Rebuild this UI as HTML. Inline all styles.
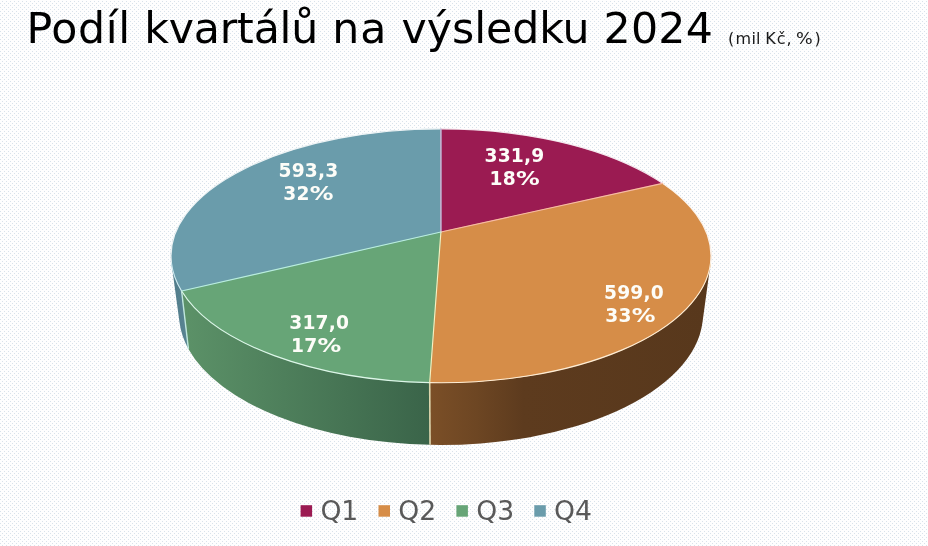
<!DOCTYPE html>
<html lang="cs"><head><meta charset="utf-8"><title>Podíl kvartálů na výsledku 2024</title>
<style>
html,body{margin:0;padding:0}
body{width:928px;height:546px;overflow:hidden;position:relative;background-color:#fefefe;font-family:"DejaVu Sans","Liberation Sans",sans-serif}
#title{z-index:2;position:absolute;left:0;top:3px;margin:0;font-weight:normal;font-size:42.67px;line-height:50px;white-space:nowrap;color:#000;width:928px;height:50px}
#title span{position:absolute;top:0}
#title small{position:absolute;font-size:16px;line-height:20px;top:25.5px;color:#1a1a1a}
svg{position:absolute;left:0;top:0}
.lbl{font-family:"DejaVu Sans","Liberation Sans",sans-serif;font-weight:bold;font-size:18.67px;fill:#fdfdf8}
.mid{text-anchor:middle;letter-spacing:0.15px}
.num{letter-spacing:0.28px}
.leg{font-family:"DejaVu Sans","Liberation Sans",sans-serif;font-size:26.67px;fill:#595959}
</style></head><body>
<h1 id="title"><span style="left:26.5px;letter-spacing:0.6px">Podíl</span> <span style="left:144.2px;letter-spacing:-0.18px">kvartálů</span> <span style="left:332.3px;letter-spacing:0.9px">na</span> <span style="left:401.6px;letter-spacing:-0.05px">výsledku</span> <span style="left:603.6px;letter-spacing:0.25px">2024</span> <small style="left:727.9px;letter-spacing:0px">(</small> <small style="left:735.6px;letter-spacing:0.2px">mil</small> <small style="left:765.3px;letter-spacing:0.9px">Kč,</small> <small style="left:796.2px;letter-spacing:0px;transform:scaleX(1.1);transform-origin:0 0">%</small> <small style="left:814.5px;letter-spacing:0px">)</small></h1>
<svg width="928" height="546" viewBox="0 0 928 546">
<defs>
<pattern id="dots" x="0" y="0" width="4" height="4" patternUnits="userSpaceOnUse"><rect x="2" y="1" width="1" height="1" fill="#d9e2ea"/><rect x="0" y="3" width="1" height="1" fill="#d9e2ea"/></pattern>
<linearGradient id="gs" gradientUnits="userSpaceOnUse" x1="181" y1="0" x2="430" y2="0"><stop offset="0" stop-color="#5c9268"/><stop offset="1" stop-color="#3a6449"/></linearGradient>
<linearGradient id="os" gradientUnits="userSpaceOnUse" x1="430" y1="0" x2="705" y2="0"><stop offset="0" stop-color="#7b4f27"/><stop offset="0.17" stop-color="#6d4623"/><stop offset="0.34" stop-color="#5d3b1e"/><stop offset="1" stop-color="#58381c"/></linearGradient>
<linearGradient id="bs" gradientUnits="userSpaceOnUse" x1="171" y1="0" x2="190" y2="0"><stop offset="0" stop-color="#4f7a88"/><stop offset="1" stop-color="#5b8795"/></linearGradient>
</defs>
<rect x="0" y="0" width="928" height="546" fill="url(#dots)" shape-rendering="crispEdges"/>
<g id="sides" stroke-linejoin="round">
<path d="M710.56 263.05 A270 126.85 0 0 1 429.70 382.59 L430.03 444.79 A262 130.7 0 0 0 702.53 322.05 Z" fill="url(#os)"/>
<path d="M429.70 382.59 A270 126.85 0 0 1 181.60 291.04 L188.43 348.95 A262 130.7 0 0 0 430.03 444.79 Z" fill="url(#gs)"/>
<path d="M181.60 291.04 A270 126.85 0 0 1 171.44 263.05 L179.47 322.05 A262 130.7 0 0 0 188.43 348.95 Z" fill="url(#bs)"/>
<path d="M429.70 382.59 L430.03 444.79" stroke="#ddd6ae" stroke-width="1.6" fill="none"/>
<path d="M181.60 291.04 L188.43 348.95" stroke="#bfe6dc" stroke-width="1.4" fill="none"/>
</g>
<g id="tops" stroke-linejoin="round" stroke-width="0.6">
<path d="M440.90 232.00 L440.90 129.00 A270 126.85 0 0 1 662.60 183.38 Z" fill="#9b1b52" stroke="#9b1b52"/>
<path d="M440.90 232.00 L662.60 183.38 A270 126.85 0 0 1 429.70 382.59 Z" fill="#d68d48" stroke="#d68d48"/>
<path d="M440.90 232.00 L429.70 382.59 A270 126.85 0 0 1 181.60 291.04 Z" fill="#67a577" stroke="#67a577"/>
<path d="M440.90 232.00 L181.60 291.04 A270 126.85 0 0 1 440.90 129.00 Z" fill="#6a9cab" stroke="#6a9cab"/>
</g>
<g id="edges" fill="none" stroke-linecap="round" stroke-width="1.15">
<path d="M171.44 263.05 A270.0 126.85 0 1 1 710.56 263.05" stroke="#ffffff" stroke-opacity="0.85" stroke-width="1.2"/>
<path d="M710.56 263.05 A270 126.85 0 0 1 429.70 382.59" stroke="#fdecd4"/>
<path d="M429.70 382.59 A270 126.85 0 0 1 181.60 291.04" stroke="#dcf6e8"/>
<path d="M181.60 291.04 A270 126.85 0 0 1 171.44 263.05" stroke="#cfeaf0"/>
<path d="M440.9 232.0 L440.90 129.00" stroke="#c9b4d4" stroke-width="1.5"/>
<path d="M440.9 232.0 L662.60 183.38" stroke="#f7bba6"/>
<path d="M440.9 232.0 L429.70 382.59" stroke="#f7efbf"/>
<path d="M440.9 232.0 L181.60 291.04" stroke="#b9eedd"/>
</g>
<text class="lbl mid" x="514.5" y="162.2">331,9</text><text class="lbl num" x="489.38" y="184.6">18</text><text class="lbl" transform="translate(515.92 184.6) scale(1.27 1)">%</text>
<text class="lbl mid" x="634.0" y="298.8">599,0</text><text class="lbl num" x="605.18" y="321.6">33</text><text class="lbl" transform="translate(631.72 321.6) scale(1.27 1)">%</text>
<text class="lbl mid" x="319.2" y="328.8">317,0</text><text class="lbl num" x="291.08" y="351.6">17</text><text class="lbl" transform="translate(317.62 351.6) scale(1.27 1)">%</text>
<text class="lbl mid" x="308.4" y="176.9">593,3</text><text class="lbl num" x="283.28" y="199.5">32</text><text class="lbl" transform="translate(309.82 199.5) scale(1.27 1)">%</text>
<rect x="300.6" y="505.2" width="11.5" height="11.5" fill="#9b1b52"/><text class="leg" x="320.4" y="519.6">Q1</text>
<rect x="378.5" y="505.2" width="11.5" height="11.5" fill="#d68d48"/><text class="leg" x="398.3" y="519.6">Q2</text>
<rect x="456.4" y="505.2" width="11.5" height="11.5" fill="#67a577"/><text class="leg" x="476.2" y="519.6">Q3</text>
<rect x="534.3" y="505.2" width="11.5" height="11.5" fill="#6a9cab"/><text class="leg" x="554.1" y="519.6">Q4</text>
</svg>
</body></html>
